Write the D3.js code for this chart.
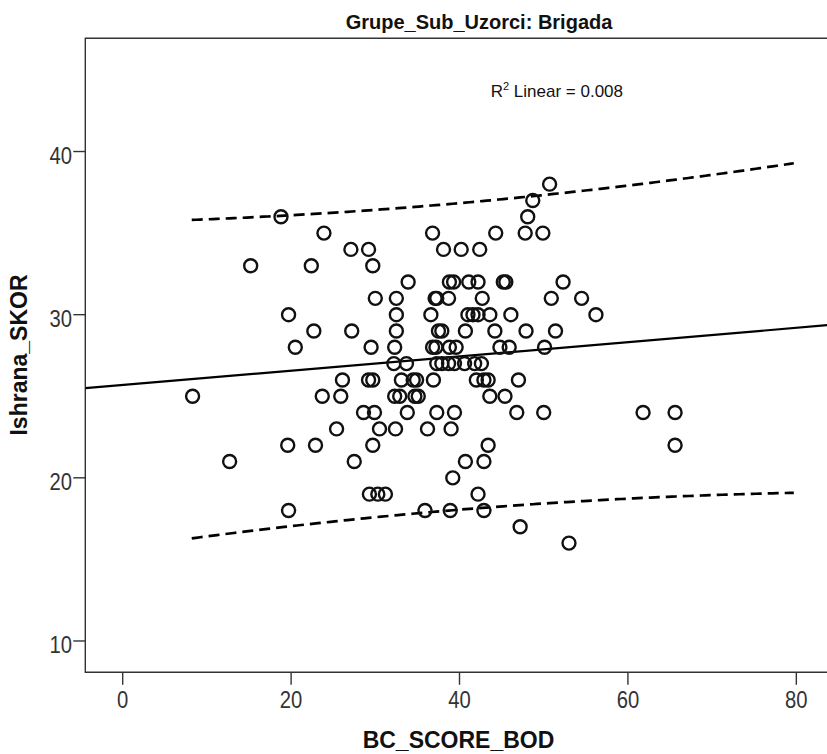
<!DOCTYPE html>
<html>
<head>
<meta charset="utf-8">
<script src="https://cdn.jsdelivr.net/npm/d3@7"></script>
<style>
  body { margin: 0; background: #fff; }
  svg { display: block; }
</style>
</head>
<body>
<div class="chart1"></div>
<script>
// Ishrana_SKOR levels (y) and BC_SCORE_BOD values (x), row by row
var ishranaLevels = [38, 37, 36, 35, 34, 33, 32, 31, 30, 29, 28, 27, 26, 25, 24, 23, 22, 21, 20, 19, 18, 17, 16];
var bcScoreByLevel = [
  [50.7],
  [48.7],
  [18.8, 48.1],
  [23.9, 36.8, 44.3, 47.8, 49.9],
  [27.1, 29.2, 38.1, 40.2, 42.4],
  [15.2, 22.4, 29.7],
  [33.9, 38.8, 39.3, 41.1, 42.2, 45.2, 45.5, 52.3],
  [30.0, 32.5, 37.1, 37.3, 38.7, 42.7, 50.9, 54.5],
  [19.7, 32.5, 36.6, 41.0, 41.6, 42.2, 43.6, 46.1, 56.2],
  [22.7, 27.2, 32.5, 37.5, 37.9, 40.7, 44.2, 47.9, 51.4],
  [20.5, 29.5, 32.3, 36.8, 37.2, 38.8, 39.6, 44.8, 45.9, 50.1],
  [32.2, 33.7, 37.3, 37.9, 38.7, 39.4, 40.6, 41.8, 42.6],
  [26.1, 29.2, 29.7, 33.1, 34.5, 34.9, 36.9, 42.0, 42.9, 43.4, 47.0],
  [8.3, 23.7, 25.9, 32.3, 32.9, 34.7, 35.1, 43.6, 45.4],
  [28.6, 29.9, 33.8, 37.3, 39.4, 46.8, 50.0, 61.8, 65.6],
  [25.4, 30.5, 32.4, 36.2, 39.0],
  [19.6, 22.9, 29.7, 43.4, 65.6],
  [12.7, 27.5, 40.7, 42.9],
  [39.2],
  [29.3, 30.3, 31.2, 42.2],
  [19.7, 35.9, 38.9, 42.9],
  [47.2],
  [53.0]
];
var xTicks = [0, 20, 40, 60, 80];
var yTicks = [10, 20, 30, 40];

// fit line + 95% individual prediction band
var fitIntercept = 25.69, fitSlope = 0.0438;
var bandMeanX = 38, bandBase = 88.23, bandCurve = 0.00792;
var bandFrom = 8.2, bandTo = 80;
var rsqText = "0.008";

var W = 827, H = 754;
var L = 85.3, R = 831.7, T = 38.3, B = 672.3;
var tickFont = "'Liberation Sans', Arial, sans-serif";

var data = [];
for (var i = 0; i < ishranaLevels.length; i++) {
  bcScoreByLevel[i].forEach(function (v) { data.push({x: v, y: ishranaLevels[i]}); });
}

var svg = d3.select(".chart1").append("svg").attr("width", W).attr("height", H);

var x = d3.scaleLinear().domain([-4.44, 84.2]).range([L, R]);
var y = d3.scaleLinear().domain([8.08, 46.94]).range([B, T]);

svg.append("clipPath").attr("id", "plotclip")
  .append("rect").attr("x", L).attr("y", T).attr("width", R - L).attr("height", B - T);

// frame
svg.append("path")
  .attr("d", "M" + R + "," + T + "H" + L + "V" + B + "H" + R)
  .attr("fill", "none").attr("stroke", "#333").attr("stroke-width", 1.4);

// ticks (labels squeezed a bit, the original uses a narrow face)
svg.selectAll(".xt").data(xTicks).enter().append("line")
  .attr("x1", function (d) { return x(d); }).attr("x2", function (d) { return x(d); })
  .attr("y1", B).attr("y2", B + 12.5)
  .attr("stroke", "#333").attr("stroke-width", 1.4);
svg.selectAll(".xl").data(xTicks).enter().append("text")
  .attr("transform", function (d) { return "translate(" + x(d) + ",708.3) scale(0.88,1)"; })
  .attr("text-anchor", "middle")
  .style("font-family", tickFont)
  .style("font-size", "23px").style("fill", "#333")
  .text(function (d) { return d; });

svg.selectAll(".yt").data(yTicks).enter().append("line")
  .attr("x1", L - 12).attr("x2", L)
  .attr("y1", function (d) { return y(d); }).attr("y2", function (d) { return y(d); })
  .attr("stroke", "#333").attr("stroke-width", 1.4);
svg.selectAll(".yl").data(yTicks).enter().append("text")
  .attr("transform", function (d) { return "translate(72," + (y(d) + 12.3) + ") scale(0.88,1)"; })
  .attr("text-anchor", "end")
  .style("font-family", tickFont)
  .style("font-size", "23px").style("fill", "#333")
  .text(function (d) { return d; });

var plot = svg.append("g").attr("clip-path", "url(#plotclip)");

// fit line
var fx = x.domain();
plot.append("line")
  .attr("x1", x(fx[0])).attr("y1", y(fitIntercept + fitSlope * fx[0]))
  .attr("x2", x(fx[1])).attr("y2", y(fitIntercept + fitSlope * fx[1]))
  .attr("stroke", "#000").attr("stroke-width", 2.2);

// prediction band
var bandX = d3.range(bandFrom, bandTo + 0.01, 0.5);
function half(v) { return Math.sqrt(bandBase + bandCurve * (v - bandMeanX) * (v - bandMeanX)); }
[1, -1].forEach(function (sgn) {
  plot.append("path")
    .datum(bandX)
    .attr("d", d3.line()
      .x(function (d) { return x(d); })
      .y(function (d) { return y(fitIntercept + fitSlope * d + sgn * half(d)); }))
    .attr("fill", "none").attr("stroke", "#000")
    .attr("stroke-width", 2.7).attr("stroke-dasharray", "11,6");
});

// points
plot.selectAll("circle").data(data).enter().append("circle")
  .attr("cx", function (d) { return x(d.x); })
  .attr("cy", function (d) { return y(d.y); })
  .attr("r", 6.5)
  .attr("fill", "none").attr("stroke", "#111").attr("stroke-width", 2.4);

// texts
svg.append("text").attr("x", 479).attr("y", 28.5).attr("text-anchor", "middle")
  .style("font-family", "'Liberation Sans', Arial, sans-serif").style("font-weight", "bold")
  .style("font-size", "20px").style("fill", "#111")
  .text("Grupe_Sub_Uzorci: Brigada");

var rt = svg.append("text").attr("x", 490.7).attr("y", 97.3)
  .style("font-family", "'Liberation Sans', Arial, sans-serif")
  .style("font-size", "17px").style("fill", "#111");
rt.append("tspan").text("R");
rt.append("tspan").attr("dy", -7).style("font-size", "11px").text("2");
rt.append("tspan").attr("dy", 7).text(" Linear = " + rsqText);

svg.append("text").attr("x", 458.5).attr("y", 748).attr("text-anchor", "middle")
  .style("font-family", "'Liberation Sans', Arial, sans-serif").style("font-weight", "bold")
  .style("font-size", "23px").style("fill", "#111")
  .text("BC_SCORE_BOD");

svg.append("text")
  .attr("transform", "translate(26.7,355) rotate(-90)")
  .attr("text-anchor", "middle")
  .style("font-family", "'Liberation Sans', Arial, sans-serif").style("font-weight", "bold")
  .style("font-size", "23px").style("fill", "#111")
  .text("Ishrana_SKOR");
</script>
</body>
</html>
